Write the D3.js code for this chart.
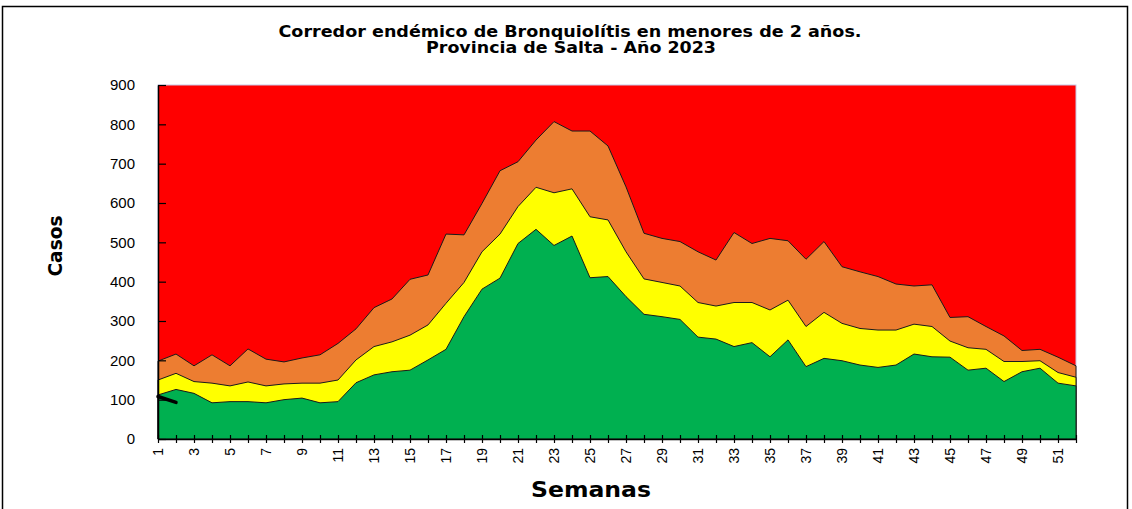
<!DOCTYPE html>
<html><head><meta charset="utf-8">
<script src="https://cdn.jsdelivr.net/npm/d3@7"></script>
<style>
body{margin:0;background:#fff;}
svg{display:block;font-family:"Liberation Sans",Arial,sans-serif;}
</style></head>
<body>
<svg id="chart" width="1132" height="509"></svg>
<script>
const weeks = d3.range(1, 53);
const tickLabels = weeks.map(w => (w % 2 === 1 ? String(w) : ""));
// Zona de éxito (límite superior verde)
const exito = [112,126,116,92,95,95,92,100,104,92,95,143,163,171,175,201,228,311,381,409,497,533,492,516,410,413,362,317,311,304,259,254,235,245,209,252,184,205,199,188,182,188,216,209,208,175,180,146,171,180,142,135];
// Zona de seguridad (límite superior amarillo)
const seguridad = [150,167,146,142,135,145,135,140,142,142,150,201,235,247,264,290,345,398,476,521,591,640,626,636,565,557,476,407,398,389,347,338,347,347,328,353,286,322,294,281,277,277,292,286,249,232,228,197,197,199,169,157];
// Zona de alerta (límite superior naranja)
const alerta = [198,216,186,214,186,229,203,196,206,214,243,280,334,356,406,417,521,519,599,682,705,760,807,783,783,745,641,523,510,502,476,455,525,497,510,504,457,502,438,425,413,394,389,392,309,311,286,262,225,228,208,186];
// Casos 2023
const casos2023 = [108,93];
const yMax = 900;
const yTicks = d3.range(0, 901, 100);

const svg = d3.select("#chart");
const m = {left:158, right:1076, top:85, bottom:439};

const x = d3.scalePoint().domain(weeks).range([m.left, m.right]);
const y = d3.scaleLinear().domain([0, yMax]).range([m.bottom, m.top]);

// outer frame
svg.append("rect").attr("x",2.5).attr("y",6.5).attr("width",1125).attr("height",520)
  .attr("fill","none").attr("stroke","#000").attr("stroke-width",1.5);

// red background zone (brote)
svg.append("rect").attr("x",m.left).attr("y",y(yMax)).attr("width",m.right-m.left).attr("height",y(0)-y(yMax))
  .attr("fill","#FF0000").attr("stroke","#C8C8E6").attr("stroke-width",1);

function zone(vals, color){
  const area = d3.area().x((d,i)=>x(weeks[i])).y0(y(0)).y1(d=>y(d));
  svg.append("path").datum(vals).attr("d", area)
    .attr("fill", color).attr("stroke","#1a1a1a").attr("stroke-width",1).attr("stroke-linejoin","round");
}
zone(alerta, "#ED7D31");
zone(seguridad, "#FFFF00");
zone(exito, "#00B050");

// 2023 line
const line = d3.line().x((d,i)=>x(weeks[i])).y(d=>y(d));
svg.append("path").datum(casos2023).attr("d", line)
  .attr("fill","none").attr("stroke","#000").attr("stroke-width",3.5).attr("stroke-linecap","round");

// Y axis
const yAxis = svg.append("g").attr("transform",`translate(${m.left},0)`)
  .call(d3.axisLeft(y).tickValues(yTicks).tickSize(-8).tickPadding(23).tickSizeOuter(0));
yAxis.select(".domain").attr("stroke","#000").attr("stroke-width",1.5);
yAxis.selectAll(".tick line").attr("stroke","#000").attr("stroke-width",1.2);
yAxis.selectAll(".tick text").attr("font-size",15).attr("fill","#000")
  .attr("font-family","'Liberation Sans',Arial,sans-serif");

// X axis
const xAxis = svg.append("g").attr("transform",`translate(0,${m.bottom})`)
  .call(d3.axisBottom(x).tickSize(4).tickSizeOuter(0).tickFormat((d,i)=>tickLabels[i]));
xAxis.select(".domain").attr("stroke","#000").attr("stroke-width",1.5);
xAxis.selectAll(".tick line").attr("y1",-4).attr("y2",4).attr("stroke","#000").attr("stroke-width",1.2);
xAxis.selectAll(".tick text").attr("font-size",14).attr("fill","#000")
  .attr("font-family","'Liberation Sans',Arial,sans-serif")
  .attr("transform","rotate(-90)").attr("x",-9).attr("y",0).attr("dy","0.35em")
  .style("text-anchor","end");

// Axis titles
svg.append("text").attr("x",591).attr("y",497).attr("text-anchor","middle")
  .attr("font-family","'DejaVu Sans',Verdana,sans-serif").attr("font-weight","bold")
  .attr("font-size",22).attr("textLength",120).attr("lengthAdjust","spacingAndGlyphs").text("Semanas");
svg.append("text").attr("transform","translate(62,246) rotate(-90)").attr("text-anchor","middle")
  .attr("font-family","'DejaVu Sans',Verdana,sans-serif").attr("font-weight","bold")
  .attr("font-size",20).attr("textLength",61).attr("lengthAdjust","spacingAndGlyphs").text("Casos");

// Title
svg.append("text").attr("x",570).attr("y",37).attr("text-anchor","middle")
  .attr("font-family","'DejaVu Sans',Verdana,sans-serif")
  .attr("font-weight","bold").attr("font-size",15).attr("textLength",583).attr("lengthAdjust","spacingAndGlyphs")
  .text("Corredor endémico de Bronquiolítis en menores de 2 años.");
svg.append("text").attr("x",571).attr("y",53).attr("text-anchor","middle")
  .attr("font-family","'DejaVu Sans',Verdana,sans-serif")
  .attr("font-weight","bold").attr("font-size",15).attr("textLength",290).attr("lengthAdjust","spacingAndGlyphs")
  .text("Provincia de Salta - Año 2023");
</script>
</body></html>
